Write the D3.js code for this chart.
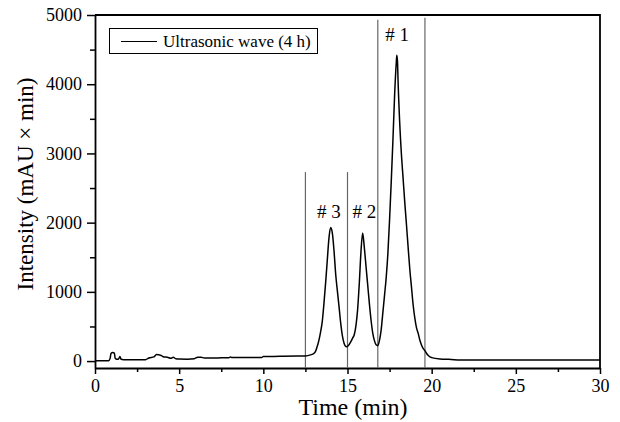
<!DOCTYPE html>
<html>
<head>
<meta charset="utf-8">
<script src="https://cdn.jsdelivr.net/npm/d3@7"></script>
<style>
    body { margin: 0; background: #fff; }
    #chart svg { display: block; }
</style>
</head>
<body>
<div id="chart"></div>
<script>
    "use strict";

    // chromatogram trace
    var times = [
        0, 0.5, 0.8, 0.9, 0.95, 1.05, 1.15, 1.2, 1.3, 1.4, 1.48, 1.55, 1.7, 2.0, 2.5, 3.0,
        3.2, 3.5, 3.65, 3.8, 3.9, 4.0, 4.1, 4.3, 4.5, 4.65, 4.8, 5.0, 5.5, 5.9, 6.1, 6.3,
        6.5, 7.0, 7.5, 7.95, 8.05, 8.15, 9.0, 9.9, 10.0, 11.0, 12.0, 12.5, 12.8, 13.0,
        13.1, 13.2, 13.3, 13.4, 13.5, 13.6, 13.7, 13.8, 13.9, 14.0, 14.1, 14.2, 14.3, 14.4,
        14.5, 14.6, 14.7, 14.8, 14.9, 14.95, 15.0, 15.1, 15.2, 15.3, 15.4, 15.5, 15.6, 15.7,
        15.8, 15.9, 16.0, 16.1, 16.2, 16.3, 16.4, 16.5, 16.6, 16.7, 16.8, 16.9, 17.0, 17.1,
        17.2, 17.3, 17.4, 17.5, 17.6, 17.7, 17.8, 17.9, 17.93, 17.97, 18.0, 18.1, 18.2, 18.3,
        18.4, 18.5, 18.6, 18.7, 18.8, 18.9, 19.0, 19.1, 19.2, 19.3, 19.4, 19.5, 19.6, 19.7,
        19.8, 19.9, 20.0, 20.5, 21.0, 22.0, 25.0, 30.0
    ];
    var intensity = [
        5, 5, 5, 40, 110, 125, 115, 40, 25, 30, 65, 25, 20, 18, 18, 20,
        45, 60, 95, 90, 85, 70, 60, 55, 40, 55, 35, 30, 28, 35, 55, 55,
        45, 45, 47, 48, 58, 50, 52, 53, 65, 68, 72, 75, 90, 110,
        140, 210, 300, 420, 570, 830, 1130, 1460, 1780, 1930, 1850, 1590, 1250, 1010,
        780, 540, 360, 255, 212, 207, 212, 240, 280, 330, 380, 510, 740, 1120,
        1580, 1850, 1640, 1370, 1100, 830, 590, 405, 295, 235, 222, 300, 450, 700,
        950, 1210, 1560, 2050, 2600, 3200, 3850, 4320, 4420, 4330, 4080, 3450, 3000, 2650,
        2300, 1980, 1650, 1330, 1070, 810, 620, 480, 400, 300, 230, 180, 150, 110,
        80, 60, 50, 30, 25, 15, 15, 15
    ];

    // vertical cut lines and their top ends
    var markerTimes = [12.5, 15.0, 16.8, 19.6];
    var markerTops = [2730, 2730, 4930, 4960];

    // peak labels
    var peakNames = ["# 3", "# 2", "# 1"];
    var peakTimes = [13.9, 16.0, 17.95];
    var peakLabelY = [2060, 2060, 4620];

    var xTicks = [0, 5, 10, 15, 20, 25, 30];
    var xMinorTicks = [2.5, 7.5, 12.5, 17.5, 22.5, 27.5];
    var yTicks = [0, 1000, 2000, 3000, 4000, 5000];
    var yMinorTicks = [500, 1500, 2500, 3500, 4500];

    function draw() {
        var width = 620, height = 422;
        var margin = { top: 15, right: 20, bottom: 54, left: 95 };
        var serif = "Liberation Serif, Times New Roman, serif";

        var xScale = d3.scaleLinear().domain([0, 30]).range([margin.left, width - margin.right]);
        var yScale = d3.scaleLinear().domain([-100, 5000]).range([height - margin.bottom, margin.top]);

        var svg = d3.select("#chart").append("svg")
            .attr("width", width)
            .attr("height", height)
            .attr("font-family", serif);

        // frame top and right
        svg.append("path")
            .attr("d", "M" + xScale(0) + "," + yScale(5000) + "H" + xScale(30) + "V" + yScale(-100))
            .attr("fill", "none")
            .attr("stroke", "#000")
            .attr("stroke-width", 1.8);

        // minor ticks
        svg.append("g")
            .attr("transform", "translate(0," + yScale(-100) + ")")
            .call(d3.axisBottom(xScale).tickValues(xMinorTicks).tickSize(4).tickFormat(""))
            .call(function (g) { g.select(".domain").remove(); })
            .selectAll("line").attr("stroke-width", 1.5);

        svg.append("g")
            .attr("transform", "translate(" + xScale(0) + ",0)")
            .call(d3.axisLeft(yScale).tickValues(yMinorTicks).tickSize(5).tickFormat(""))
            .call(function (g) { g.select(".domain").remove(); })
            .selectAll("line").attr("stroke-width", 1.5);

        // x-axis
        svg.append("g")
            .attr("transform", "translate(0," + yScale(-100) + ")")
            .call(d3.axisBottom(xScale).tickValues(xTicks).tickFormat(d3.format("d"))
                .tickSizeInner(6).tickSizeOuter(0).tickPadding(5))
            .call(function (g) {
                g.attr("font-family", serif).attr("font-size", 18);
                g.select(".domain").attr("stroke-width", 1.8);
                g.selectAll("line").attr("stroke-width", 1.5);
            });

        // y-axis
        svg.append("g")
            .attr("transform", "translate(" + xScale(0) + ",0)")
            .call(d3.axisLeft(yScale).tickValues(yTicks).tickFormat(d3.format("d"))
                .tickSizeInner(8).tickSizeOuter(0).tickPadding(5))
            .call(function (g) {
                g.attr("font-family", serif).attr("font-size", 18);
                g.select(".domain").attr("stroke-width", 1.8);
                g.selectAll("line").attr("stroke-width", 1.5);
            });

        // cut lines
        svg.selectAll(".marker")
            .data(markerTimes)
            .enter()
            .append("line")
            .attr("class", "marker")
            .attr("x1", function (d) { return xScale(d); })
            .attr("x2", function (d) { return xScale(d); })
            .attr("y1", function (d, i) { return yScale(markerTops[i]); })
            .attr("y2", yScale(-100))
            .attr("stroke", "#666")
            .attr("stroke-width", 1.2);

        // trace
        var line = d3.line()
            .x(function (d, i) { return xScale(times[i]); })
            .y(function (d) { return yScale(d); })
            .curve(d3.curveMonotoneX);

        svg.append("path")
            .datum(intensity)
            .attr("d", line)
            .attr("fill", "none")
            .attr("stroke", "#000")
            .attr("stroke-width", 1.5)
            .attr("stroke-linejoin", "round");

        // peak labels
        svg.selectAll(".peak")
            .data(peakNames)
            .enter()
            .append("text")
            .attr("class", "peak")
            .attr("x", function (d, i) { return xScale(peakTimes[i]); })
            .attr("y", function (d, i) { return yScale(peakLabelY[i]); })
            .attr("text-anchor", "middle")
            .attr("font-size", 19)
            .text(function (d) { return d; });

        // legend
        var legend = svg.append("g");
        legend.append("rect")
            .attr("x", 109.5).attr("y", 28.5)
            .attr("width", 208).attr("height", 25)
            .attr("fill", "#fff")
            .attr("stroke", "#000")
            .attr("stroke-width", 1);
        legend.append("line")
            .attr("x1", 121).attr("x2", 157)
            .attr("y1", 41.5).attr("y2", 41.5)
            .attr("stroke", "#000")
            .attr("stroke-width", 1.2);
        legend.append("text")
            .attr("x", 163).attr("y", 47)
            .attr("font-size", 17)
            .text("Ultrasonic wave (4 h)");

        // axis titles
        svg.append("text")
            .attr("x", 353).attr("y", 415)
            .attr("text-anchor", "middle")
            .attr("font-size", 24)
            .text("Time (min)");

        svg.append("text")
            .attr("transform", "translate(33," + 184 + ") rotate(-90)")
            .attr("text-anchor", "middle")
            .attr("font-size", 23)
            .text("Intensity (mAU \u00d7 min)");
    }

    draw();
</script>
</body>
</html>
